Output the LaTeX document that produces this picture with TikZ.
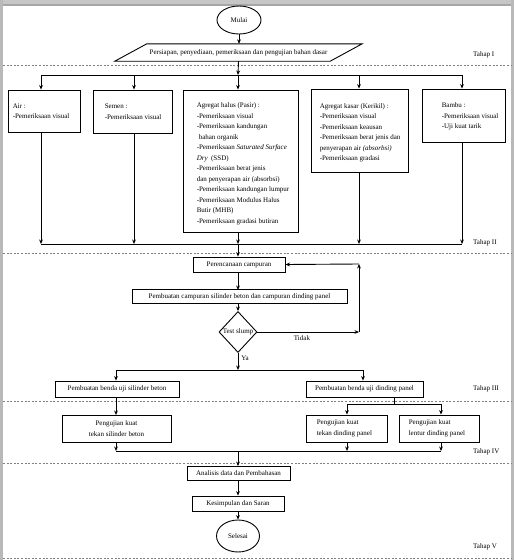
\documentclass[tikz,border=0pt]{standalone}
\usepackage{fontspec}
\setmainfont{Liberation Serif}
\usetikzlibrary{arrows.meta,shapes.geometric,calc}
\begin{document}
\begin{tikzpicture}[x=1pt,y=-1pt,
  txt/.style={font=\fontsize{7}{10.5}\selectfont, inner sep=0pt},
  box/.style={draw, line width=0.9pt, rectangle, inner sep=0pt, font=\fontsize{7}{10.5}\selectfont},
  conn/.style={line width=0.9pt},
  arr/.style={line width=0.9pt, -{Stealth[length=4.5pt,width=3.8pt]}},
  sep/.style={gray, line width=0.6pt, dash pattern=on 2pt off 1.6pt},
  tahap/.style={font=\fontsize{7}{9}\selectfont, inner sep=0pt, anchor=west}
]
\useasboundingbox (0,0) rectangle (514,560);
% page frame
\fill[gray!45] (0,0) rectangle (514,6);
\fill[gray!70] (3,4) rectangle (511,6);
\fill[gray!55] (0,0) rectangle (3,560);
\fill[gray!55] (511,0) rectangle (514,560);

% stage separators
\foreach \yy in {65,253,401,463,558} \draw[sep] (3,\yy) -- (511,\yy);

% Tahap I
\node[ellipse, draw, line width=0.9pt, minimum width=44, minimum height=28, inner sep=0pt, txt] (mulai) at (239,20) {Mulai};
\node[txt, minimum width=215, minimum height=17] (prep) at (238.5,52.5) {Persiapan, penyediaan, pemeriksaan dan pengujian bahan dasar};
\draw[line width=0.9pt] ($(prep.south west)+(-16,0)$) -- ($(prep.north west)+(16,0)$) -- ($(prep.north east)+(16,0)$) -- ($(prep.south east)+(-16,0)$) -- cycle;
\draw[arr] (mulai) -- (mulai |- prep.north);
\node[tahap] (t1) at (473,55) {Tahap I};

% Tahap II
\coordinate (split) at (238,75);
\coordinate (b1) at (41,75);
\coordinate (b2) at (134,75);
\coordinate (b3) at (238,75);
\coordinate (b4) at (359,75);
\coordinate (b5) at (462,75);
\draw[arr] (prep.south) -- (split);
\draw[conn] (b1) -- (b5);

\node[box, minimum width=72, minimum height=42] (air) at (44,111) {};
\node[txt, anchor=west, align=left] (airt) at ($(air.west)+(5,0)$) {Air :\\-Pemeriksaan visual};
\node[box, minimum width=79, minimum height=43] (semen) at (132.5,111.5) {};
\node[txt, anchor=west, align=left] (sement) at ($(semen.west)+(12,0)$) {Semen :\\-Pemeriksaan visual};
\node[box, minimum width=115, minimum height=142] (halus) at (240.5,161) {};
\node[txt, anchor=west, align=left] (halust) at ($(halus.west)+(14,3)$) {Agregat halus (Pasir) :\\-Pemeriksaan visual\\-Pemeriksaan kandungan\\\hspace*{2pt}bahan organik\\-Pemeriksaan \textit{Saturated Surface}\\\textit{Dry} \ (SSD)\\-Pemeriksaan berat jenis\\dan penyerapan air (absorbsi)\\-Pemeriksaan kandungan lumpur\\-Pemeriksaan Modulus Halus\\Butir (MHB)\\-Pemeriksaan gradasi butiran};
\node[box, minimum width=97, minimum height=83] (kasar) at (359.5,130.5) {};
\node[txt, anchor=west, align=left] (kasart) at ($(kasar.west)+(9,2.5)$) {Agregat kasar (Kerikil) :\\-Pemeriksaan visual\\-Pemeriksaan keausan\\-Pemeriksaan berat jenis dan\\penyerapan air \textit{(absorbsi)}\\-Pemeriksaan gradasi};
\node[box, minimum width=83, minimum height=53] (bambu) at (463.5,115.5) {};
\node[txt, anchor=west, align=left] (bambut) at ($(bambu.west)+(20,1)$) {Bambu :\\-Pemeriksaan visual\\-Uji kuat tarik};

\draw[arr] (b1) -- (b1 |- air.north);
\draw[arr] (b2) -- (b2 |- semen.north);
\draw[arr] (b3) -- (b3 |- halus.north);
\draw[arr] (b4) -- (b4 |- kasar.north);
\draw[arr] (b5) -- (b5 |- bambu.north);

\coordinate (j1) at (41,244);
\coordinate (j2) at (134,244);
\coordinate (j3) at (238,244);
\coordinate (j4) at (359,244);
\coordinate (j5) at (462,244);
\draw[arr] (b1 |- air.south) -- (j1);
\draw[arr] (b2 |- semen.south) -- (j2);
\draw[arr] (b3 |- halus.south) -- (j3);
\draw[arr] (b4 |- kasar.south) -- (j4);
\draw[arr] (b5 |- bambu.south) -- (j5);
\draw[conn] (j1) -- (j5);
\node[tahap] (t2) at (473,243) {Tahap II};

% Tahap III
\node[box, minimum width=92, minimum height=15] (renc) at (239,264.5) {Perencanaan campuran};
\node[box, minimum width=215, minimum height=14] (buat) at (239.5,296.5) {Pembuatan campuran silinder beton dan campuran dinding panel};
\node[diamond, draw, line width=0.9pt, minimum width=38, minimum height=41, inner sep=0pt, txt] (slump) at (238,332) {Test slump};
\draw[arr] (j3) -- (j3 |- renc.north);
\draw[arr] (238,272) -- (238,290);
\draw[arr] (238,303) -- (slump.north);
\coordinate (r1) at (359,332);
\coordinate (r2) at (359,264);
\draw[arr] (slump.east) -- (r1);
\draw[arr] (r1) -- (r2);
\draw[arr] (r2) -- (renc.east);
\node[txt] (tidak) at (302,338) {Tidak};
\node[txt] (ya) at (245,358) {Ya};

\coordinate (ya1) at (238,370);
\coordinate (y1) at (116,370);
\coordinate (y2) at (363,370);
\draw[arr] (slump.south) -- (ya1);
\draw[conn] (y1) -- (y2);
\node[box, minimum width=124, minimum height=16] (bsil) at (117,389) {Pembuatan benda uji silinder beton};
\node[box, minimum width=117, minimum height=16] (bpan) at (364.5,389) {Pembuatan benda uji dinding panel};
\draw[arr] (y1) -- (y1 |- bsil.north);
\draw[arr] (y2) -- (y2 |- bpan.north);
\node[tahap] (t3) at (473,389) {Tahap III};

% Tahap IV
\node[box, minimum width=109, minimum height=27, align=center] (teksil) at (116.5,428.5) {Pengujian kuat\\tekan silinder beton};
\node[box, minimum width=81, minimum height=27] (tekpan) at (346.5,428.5) {};
\node[txt, anchor=west, align=left] (tekpant) at ($(tekpan.west)+(11,0)$) {Pengujian kuat\\tekan dinding panel};
\node[box, minimum width=80, minimum height=27] (lentur) at (439,428.5) {};
\node[txt, anchor=west, align=left] (lenturt) at ($(lentur.west)+(10,0)$) {Pengujian kuat\\lentur dinding panel};
\draw[arr] (116,397) -- (116,415);
\coordinate (p0) at (394,404);
\coordinate (p1) at (347,404);
\coordinate (p2) at (441,404);
\draw[conn] (394,397) -- (p0);
\draw[conn] (p1) -- (p2);
\draw[arr] (p1) -- (p1 |- tekpan.north);
\draw[arr] (p2) -- (p2 |- lentur.north);

\coordinate (q1) at (116,451);
\coordinate (q2) at (347,451);
\coordinate (q3) at (441,451);
\coordinate (qc) at (238,451);
\draw[arr] (q1 |- teksil.south) -- (q1);
\draw[arr] (q2 |- tekpan.south) -- (q2);
\draw[arr] (q3 |- lentur.south) -- (q3);
\draw[conn] (q1) -- (q3);
\node[tahap] (t4) at (473,452) {Tahap IV};

% Tahap V
\node[box, minimum width=103, minimum height=14] (anal) at (238.5,473.5) {Analisis data dan Pembahasan};
\node[box, minimum width=92, minimum height=15] (kesim) at (238,503.5) {Kesimpulan dan Saran};
\node[ellipse, draw, line width=0.9pt, minimum width=43, minimum height=32, inner sep=0pt, txt] (selesai) at (238,536) {Selesai};
\draw[arr] (qc) -- (qc |- anal.north);
\draw[arr] (238,480.5) -- (kesim.north);
\draw[arr] (kesim.south) -- (selesai.north);
\node[tahap] (t5) at (473,547) {Tahap V};
\end{tikzpicture}
\end{document}
